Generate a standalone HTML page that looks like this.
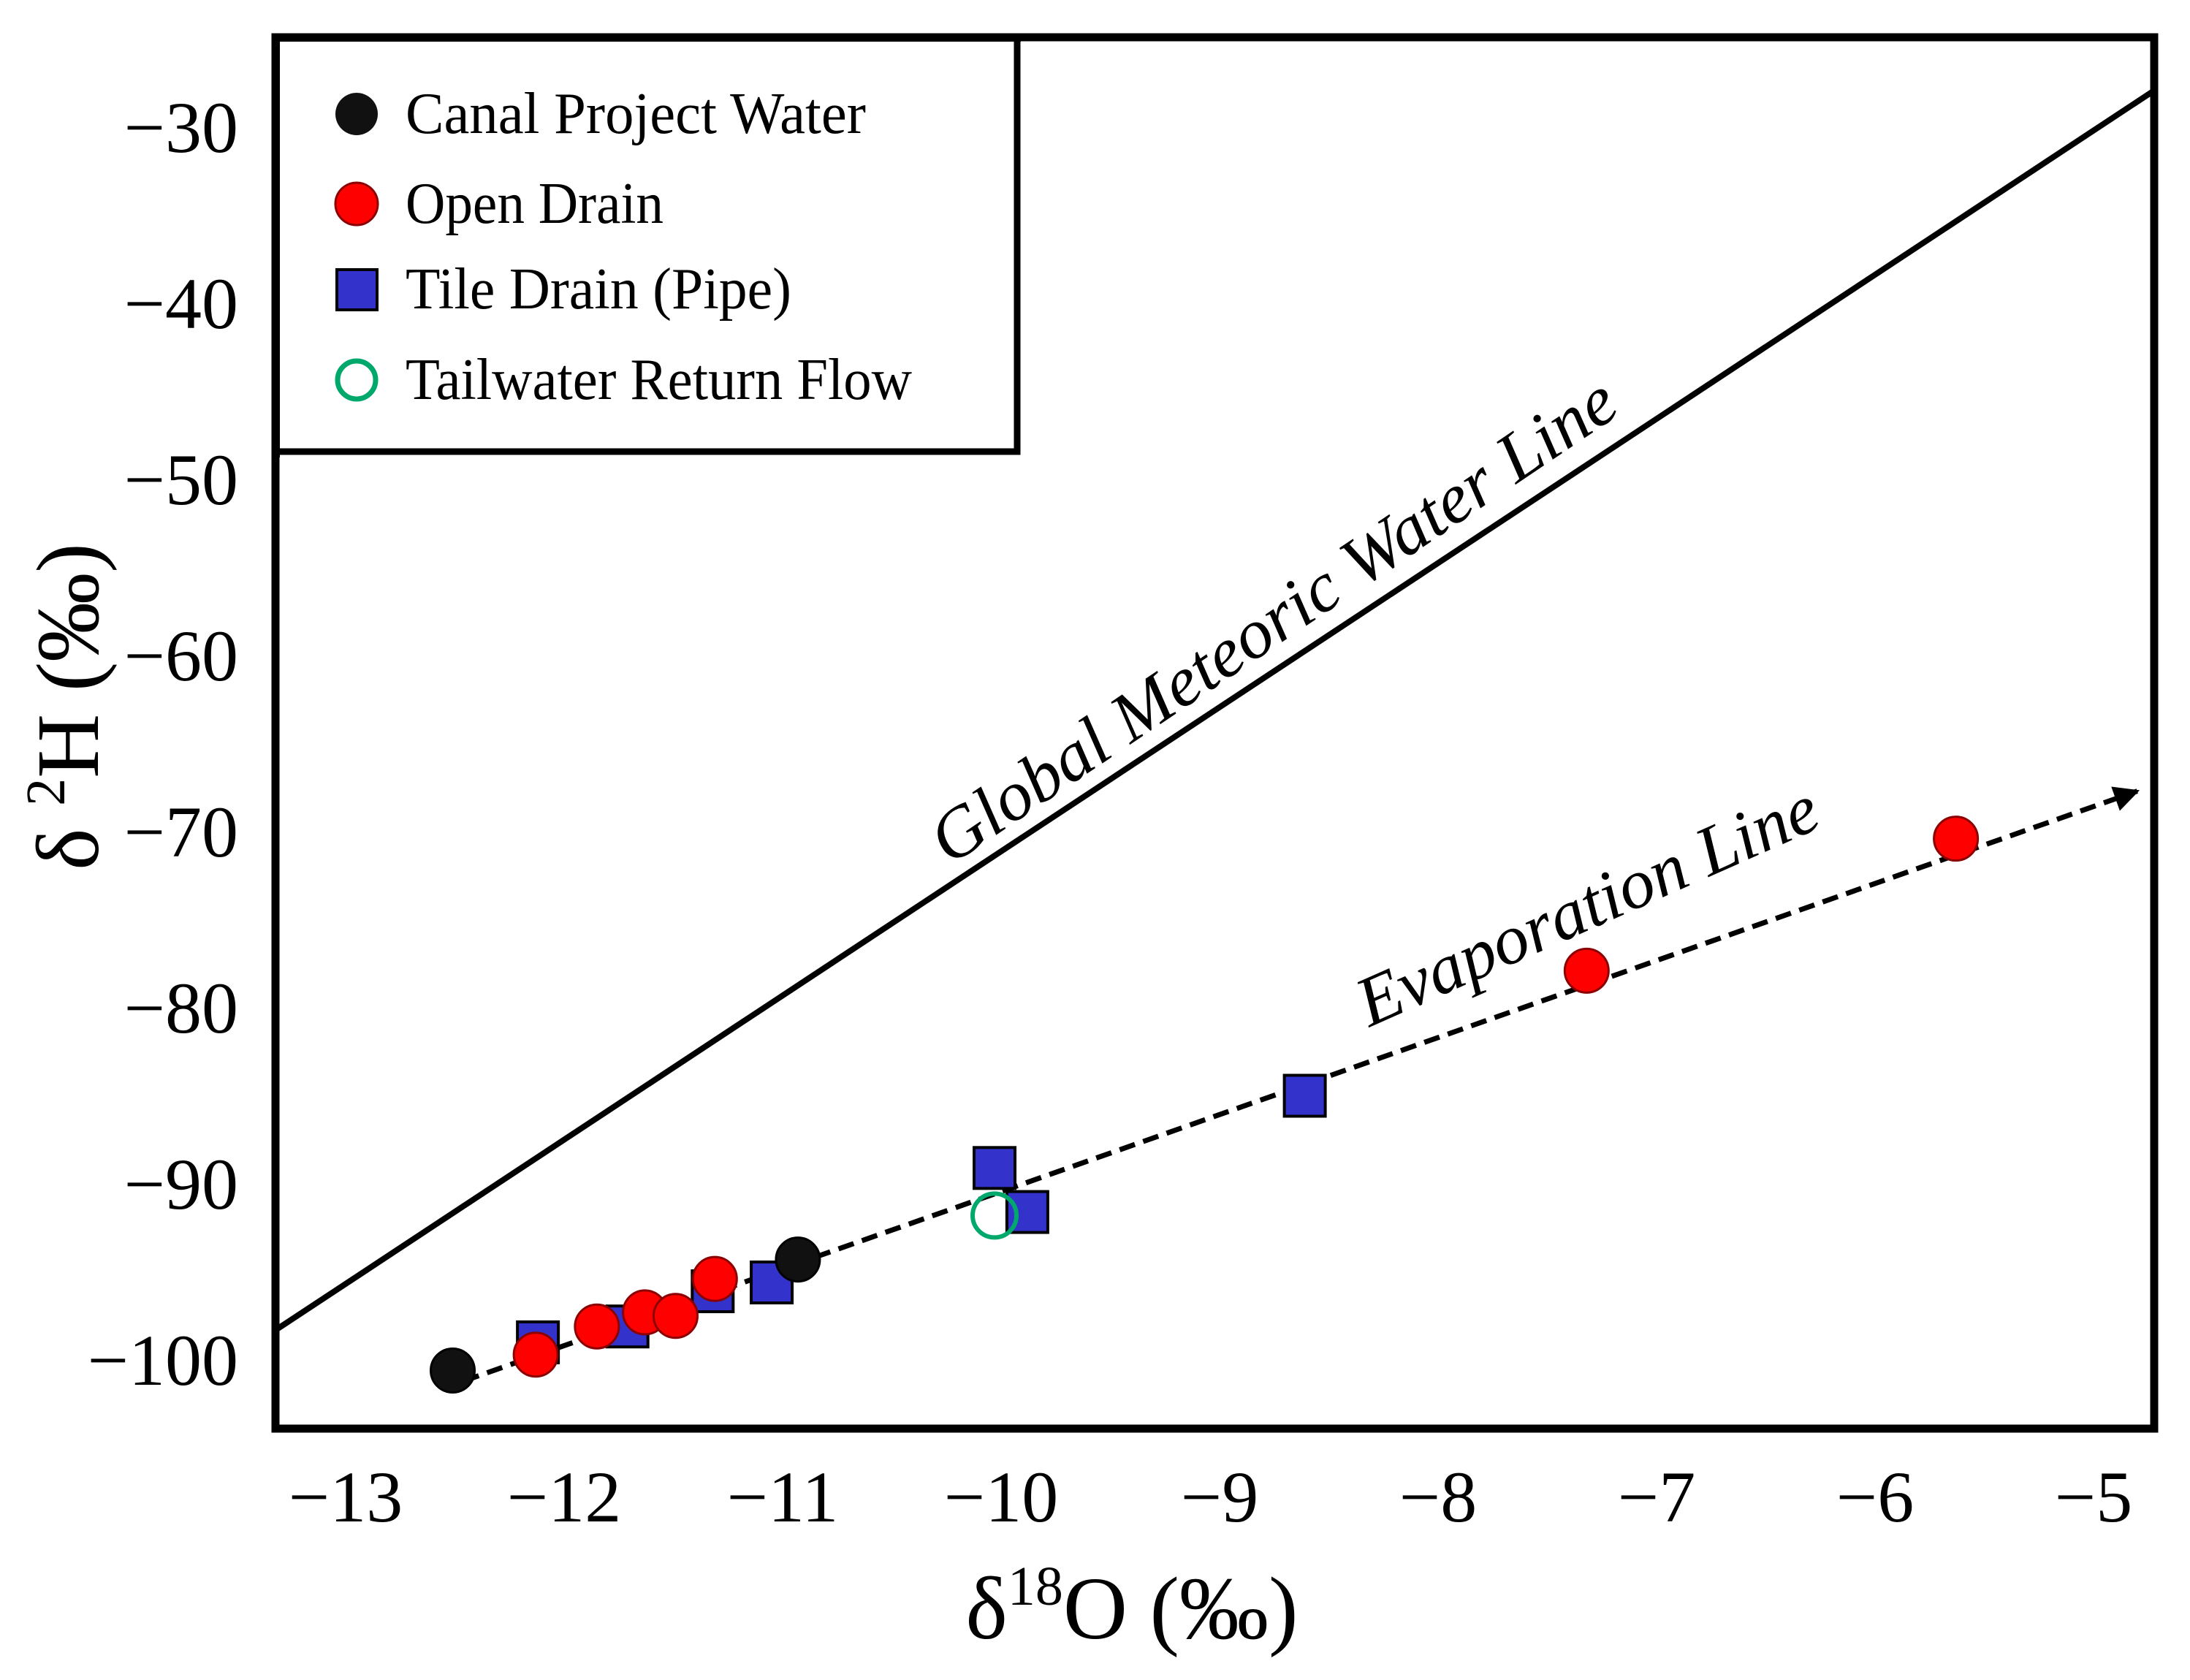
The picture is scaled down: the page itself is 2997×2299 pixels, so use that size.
<!DOCTYPE html>
<html><head><meta charset="utf-8"><style>
html,body{margin:0;padding:0;background:#fff;}
svg{display:block;}
text{font-family:"Liberation Serif",serif;fill:#000;}
</style></head><body>
<svg id="chart" width="2997" height="2299" viewBox="0 0 2997 2299" xmlns="http://www.w3.org/2000/svg">
<defs>
<marker id="arrow" viewBox="0 0 10 10" refX="9" refY="5" markerWidth="6" markerHeight="5" orient="auto" markerUnits="strokeWidth"><path d="M0,0 L10,5 L0,10 z" fill="#000"/></marker>
</defs>
<g id="plot"></g>
</svg>
<script>
const xTicks = [-13,-12,-11,-10,-9,-8,-7,-6,-5];
const yTicks = [-30,-40,-50,-60,-70,-80,-90,-100];
const canalX = [-12.51,-10.93];
const canalY = [-100.6,-94.3];
const openX = [-12.13,-11.85,-11.63,-11.49,-11.31,-7.32,-5.63];
const openY = [-99.7,-98.1,-97.3,-97.5,-95.4,-77.9,-70.4];
const tileX = [-12.12,-11.71,-11.32,-11.05,-10.03,-9.88,-8.61];
const tileY = [-99.0,-98.1,-96.1,-95.6,-89.1,-91.6,-85.0];
const tailX = [-10.03];
const tailY = [-91.8];
const gmwlX = [-13.32,-4.72];
const gmwlY = [-98.3,-27.9];
const evapX = [-12.46,-4.80];
const evapY = [-101.2,-67.7];

const NS='http://www.w3.org/2000/svg';
const L=377,R=2948,T=51,B=1955;
function sx(v){return 473+(v+13)*299;}
function sy(v){return 174+(-30-v)*24.1;}
const g=document.getElementById('plot');
function mk(tag,attrs,parent){const e=document.createElementNS(NS,tag);for(const k in attrs)e.setAttribute(k,attrs[k]);(parent||g).appendChild(e);return e;}

const cp=mk('clipPath',{id:'clip'});mk('rect',{x:L,y:T,width:R-L,height:B-T},cp);

let gl=mk('line',{x1:sx(gmwlX[0]),y1:sy(gmwlY[0]),x2:sx(gmwlX[1]),y2:sy(gmwlY[1]),stroke:'#000','stroke-width':8,'clip-path':'url(#clip)'});


let el=mk('line',{x1:sx(evapX[0]),y1:sy(evapY[0]),x2:sx(evapX[1]),y2:sy(evapY[1]),stroke:'#000','stroke-width':7,'stroke-dasharray':'22 12','marker-end':'url(#arrow)'});



function circle(x,y,fill,stroke,name,sw){
  const c=mk('circle',{cx:sx(x),cy:sy(y),r:30,fill:fill,stroke:stroke,'stroke-width':sw||3});
  
  
}
function square(x,y,name){
  const s=mk('rect',{x:sx(x)-28,y:sy(y)-28,width:56,height:56,fill:'#3333cc',stroke:'#000','stroke-width':4});
  
  
}
tileX.forEach((x,i)=>square(x,tileY[i],'tile-drain-point'));
canalX.forEach((x,i)=>circle(x,canalY[i],'#111','#000','canal-project-water-point'));
openX.forEach((x,i)=>circle(x,openY[i],'#ff0000','#8b0000','open-drain-point'));
tailX.forEach((x,i)=>circle(x,tailY[i],'none','#00a86b','tailwater-return-flow-point',6));

let ax=mk('rect',{x:L,y:T,width:R-L,height:B-T,fill:'none',stroke:'#000','stroke-width':11});



xTicks.forEach(v=>{const t=mk('text',{x:sx(v),y:2082,'font-size':100,'text-anchor':'middle'});t.textContent='\u2212'+Math.abs(v);

});
yTicks.forEach(v=>{const t=mk('text',{x:326,y:sy(v)+34,'font-size':100,'text-anchor':'end'});t.textContent='\u2212'+Math.abs(v);

});
</script>
<svg style="position:absolute;left:0;top:0" width="2997" height="2299" xmlns="http://www.w3.org/2000/svg">
<text x="1549" y="2242" font-size="122" text-anchor="middle" style="font-family:'Liberation Serif',serif">δ<tspan font-size="76" dy="-46">18</tspan><tspan dy="46">O (‰)</tspan></text>
<text transform="translate(134,967) rotate(-90)" font-size="122" text-anchor="middle" style="font-family:'Liberation Serif',serif">δ <tspan font-size="76" dy="-46">2</tspan><tspan dy="46">H (‰)</tspan></text>
<text transform="translate(1760,875) rotate(-34)" font-size="96" font-style="italic" text-anchor="middle" textLength="1110" lengthAdjust="spacingAndGlyphs" style="font-family:'Liberation Serif',serif">Global Meteoric Water Line</text>
<text transform="translate(2185,1268) rotate(-23.9)" font-size="96" font-style="italic" text-anchor="middle" textLength="680" lengthAdjust="spacingAndGlyphs" style="font-family:'Liberation Serif',serif">Evaporation Line</text>
<g>
<rect x="378" y="51" width="1014" height="567" fill="#fff" stroke="#000" stroke-width="9"/>
<rect x="373" y="46" width="10" height="580" fill="#000"/>
<rect x="373" y="46" width="1024" height="11" fill="#000"/>
<g><circle cx="488" cy="156" r="29" fill="#111"/><text x="555" y="182" font-size="80" textLength="630" lengthAdjust="spacingAndGlyphs" style="font-family:'Liberation Serif',serif">Canal Project Water</text></g>
<g><circle cx="488" cy="279" r="29" fill="#ff0000" stroke="#8b0000" stroke-width="3"/><text x="555" y="305" font-size="80" textLength="353" lengthAdjust="spacingAndGlyphs" style="font-family:'Liberation Serif',serif">Open Drain</text></g>
<g><rect x="461" y="369" width="55" height="55" fill="#3333cc" stroke="#000" stroke-width="4"/><text x="555" y="422" font-size="80" textLength="528" lengthAdjust="spacingAndGlyphs" style="font-family:'Liberation Serif',serif">Tile Drain (Pipe)</text></g>
<g><circle cx="488" cy="520" r="26" fill="none" stroke="#00a86b" stroke-width="7"/><text x="555" y="546" font-size="80" textLength="693" lengthAdjust="spacingAndGlyphs" style="font-family:'Liberation Serif',serif">Tailwater Return Flow</text></g>
</g>
</svg>
</body></html>
